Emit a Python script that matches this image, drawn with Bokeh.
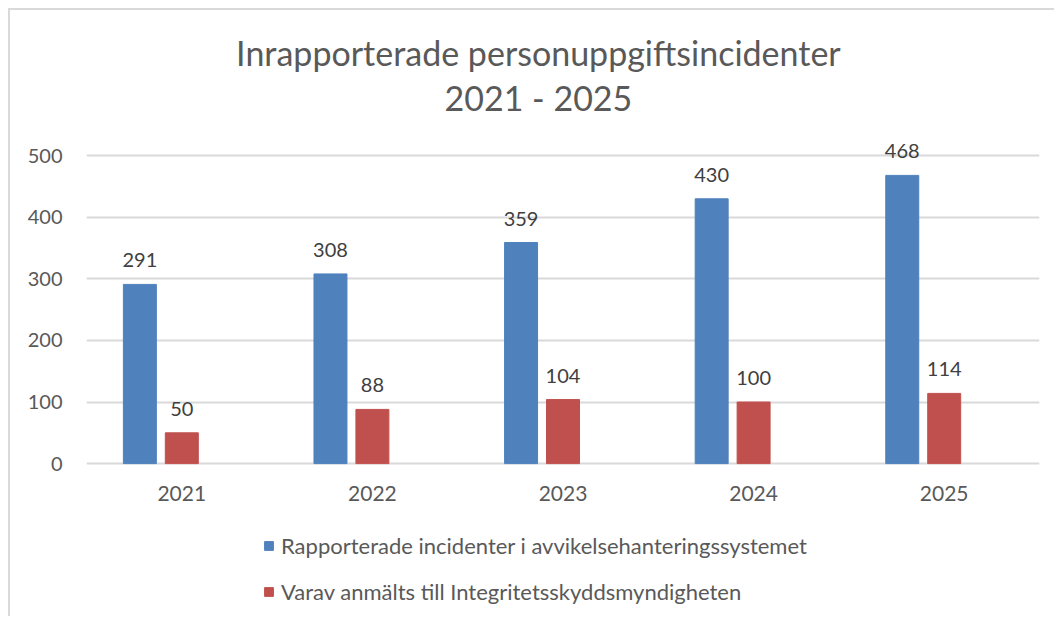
from bokeh.plotting import figure
from bokeh.models import (ColumnDataSource, Range1d, FactorRange, LabelSet, Legend,
                          LegendItem, Label, FixedTicker)
from bokeh.core.properties import value
from bokeh.transform import dodge
from bokeh.embed import file_html
from bokeh.resources import INLINE

years = ["2021", "2022", "2023", "2024", "2025"]
reported = [291, 308, 359, 430, 468]
notified = [50, 88, 104, 100, 114]
series_names = ["Rapporterade incidenter i avvikelsehanteringssystemet",
                "Varav anmälts till Integritetsskyddsmyndigheten"]
title_lines = ["Inrapporterade personuppgiftsincidenter", "2021 - 2025"]
y_ticks = [0, 100, 200, 300, 400, 500]

BLUE = "#4F81BD"
RED = "#C0504D"
AXIS_TXT = "#595959"
LBL_TXT = "#404040"
FONT = "Lato"

src = ColumnDataSource(dict(year=years, reported=reported, notified=notified))

# The (invisible) frame spans the whole chart area so that title, data labels,
# category axis and legend all live inside it.
p = figure(x_range=FactorRange(*years), y_range=Range1d(-245, 700),
           frame_width=953, frame_height=582,
           min_border_left=76, min_border_right=15,
           min_border_top=22, min_border_bottom=2,
           output_backend="svg", toolbar_location=None)
p.styles = {"margin-left": "8px", "margin-top": "8px",
            "border-top": "2px solid #d9d9d9", "border-left": "2px solid #d9d9d9"}
p.outline_line_color = None
p.background_fill_color = "white"
p.border_fill_color = "white"

off_blue = -0.22
bw = 0.173
r1 = p.vbar(x=dodge("year", off_blue, range=p.x_range), top="reported", width=bw,
            source=src, fill_color=BLUE, line_color=BLUE)
r2 = p.vbar(x=dodge("year", 0.0, range=p.x_range), top="notified", width=bw,
            source=src, fill_color=RED, line_color=RED)

for col, off in (("reported", off_blue), ("notified", 0.0)):
    ls = LabelSet(x=dodge("year", off, range=p.x_range), y=col, text=col, source=src,
                  text_align="center", text_baseline="alphabetic", y_offset=17,
                  text_font=value(FONT), text_font_size=value("20px"),
                  text_color=value(LBL_TXT))
    p.add_layout(ls)

# axes
p.yaxis.ticker = FixedTicker(ticks=y_ticks)
p.ygrid.ticker = FixedTicker(ticks=y_ticks)
p.ygrid.grid_line_color = "#d9d9d9"
p.ygrid.grid_line_width = 2
p.xgrid.grid_line_color = None
p.xaxis.fixed_location = 0
for ax in (p.xaxis, p.yaxis):
    ax.axis_line_color = None
    ax.major_tick_line_color = None
    ax.minor_tick_line_color = None
    ax.major_tick_out = 0
    ax.major_tick_in = 0
    ax.minor_tick_out = 0
    ax.major_label_text_font = FONT
    ax.major_label_text_font_size = "20px"
    ax.major_label_text_color = AXIS_TXT
p.yaxis.major_label_standoff = 24
p.xaxis.major_label_standoff = 22
p.xaxis.major_label_text_font_size = "21px"

# two-line chart title, centred over the chart area
for txt, yv in zip(title_lines, (667, 594)):
    p.add_layout(Label(x=2.371, y=yv, text=txt, text_align="center",
                       text_baseline="alphabetic", text_font=FONT,
                       text_font_size="34px", text_color=AXIS_TXT))

legend = Legend(items=[LegendItem(label=series_names[0], renderers=[r1]),
                       LegendItem(label=series_names[1], renderers=[r2])],
                location=(177, 9), orientation="vertical",
                padding=0, margin=0, spacing=19, label_standoff=7,
                glyph_width=11, glyph_height=11, label_height=26,
                label_text_font=FONT, label_text_font_size="22px",
                label_text_color=AXIS_TXT,
                border_line_color=None, background_fill_alpha=0)
p.add_layout(legend, "center")

open("out.html", "w").write(file_html(p, INLINE))
